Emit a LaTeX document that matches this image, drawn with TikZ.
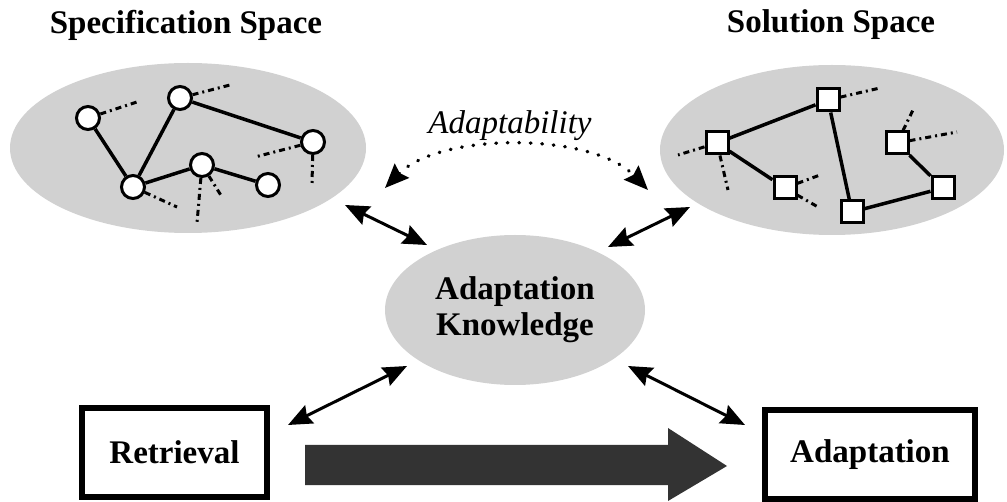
\documentclass[tikz,border=0pt]{standalone}
\usepackage{fontspec}
\setmainfont{Liberation Serif}
\usetikzlibrary{positioning, arrows.meta, shapes.geometric}

\begin{document}
\begin{tikzpicture}[x=1pt, y=-1pt,
    space/.style={ellipse, fill=black!18, inner sep=0pt},
    big/.style={font=\fontsize{33}{36}\selectfont\bfseries},
    spec/.style={circle, draw, line width=3pt, fill=white, minimum size=23pt, inner sep=0pt},
    sol/.style={rectangle, draw, line width=3pt, fill=white, minimum size=22pt, inner sep=0pt},
    link/.style={line width=3.5pt},
    stub/.style={line width=3pt, dash pattern=on 6pt off 4pt on 2pt off 4pt},
    tip/.style={{Stealth[length=24pt,width=20pt,inset=3pt]}-{Stealth[length=24pt,width=20pt,inset=3pt]}},
    arrow/.style={tip, line width=3pt}
  ]
    \useasboundingbox (0,0) rectangle (1007,502);

    % the two spaces and the knowledge in between
    \node[space, minimum width=356pt, minimum height=170pt] (specspace) at (188,148) {};
    \node[space, minimum width=344pt, minimum height=170pt] (solspace) at (832,150) {};
    \node[space, minimum width=260pt, minimum height=150pt, big, align=center] (know) at (515,310) {Adaptation\\Knowledge};
    \node[big] (spectitle) at (186,25) {Specification Space};
    \node[big] (soltitle) at (831,25) {Solution Space};

    % specification graph
    \node[spec] (c1) at (88,118) {};
    \node[spec] (c2) at (180,98) {};
    \node[spec] (c3) at (313,142) {};
    \node[spec] (c4) at (133,187) {};
    \node[spec] (c5) at (202,165) {};
    \node[spec] (c6) at (268,185) {};
    \draw[link] (c1) -- (c4) -- (c2) -- (c3);
    \draw[link] (c4) -- (c5) -- (c6);
    \foreach \n/\x/\y [count=\i] in {c1/137/102, c2/230/85, c3/255/157, c3/312/184,
                                     c4/177/207, c5/197/223, c5/222/197}
      {\coordinate (ce\i) at (\x,\y);
       \draw[stub] (\n) -- (ce\i);}

    % solution graph
    \node[sol] (q1) at (717,143) {};
    \node[sol] (q2) at (828,100) {};
    \node[sol] (q3) at (785,188) {};
    \node[sol] (q4) at (852,212) {};
    \node[sol] (q5) at (897,143) {};
    \node[sol] (q6) at (943,188) {};
    \draw[link] (q3) -- (q1) -- (q2) -- (q4) -- (q6) -- (q5);
    \foreach \n/\x/\y [count=\i] in {q1/678/155, q1/728/190, q2/880/88, q3/820/175,
                                     q3/818/207, q5/913/110, q5/957/132}
      {\coordinate (qe\i) at (\x,\y);
       \draw[stub] (\n) -- (qe\i);}

    % adaptability
    \node[font=\fontsize{33}{36}\selectfont\itshape] (adapt) at (510,126) {Adaptability};
    \coordinate (dl) at (385,188);
    \coordinate (dr) at (648,190);
    \draw[tip, line width=3.5pt, line cap=round, dash pattern=on 0.5pt off 11pt]
      (dl) .. controls (440,132) and (592,132) .. (dr);

    % phases
    \node[rectangle, draw, line width=6pt, minimum height=89pt, big, minimum width=185pt] (retr) at (174.5,452.5) {Retrieval};
    \node[rectangle, draw, line width=6pt, minimum height=89pt, big, minimum width=210pt] (adpt) at (870,454.5) {Adaptation};
    \fill[black!80] (305,445) -- (668,445) -- (668,428) -- (727,466) -- (668,501)
      -- (668,485) -- (305,485) -- cycle;

    % links to the knowledge
    \coordinate (a1) at (345,205);
    \coordinate (a2) at (427,245);
    \coordinate (a3) at (608,247);
    \coordinate (a4) at (690,207);
    \coordinate (a5) at (288,425);
    \coordinate (a6) at (407,366);
    \coordinate (a7) at (628,366);
    \coordinate (a8) at (745,425);
    \draw[arrow] (a1) -- (a2);
    \draw[arrow] (a3) -- (a4);
    \draw[arrow] (a5) -- (a6);
    \draw[arrow] (a7) -- (a8);
\end{tikzpicture}
\end{document}
